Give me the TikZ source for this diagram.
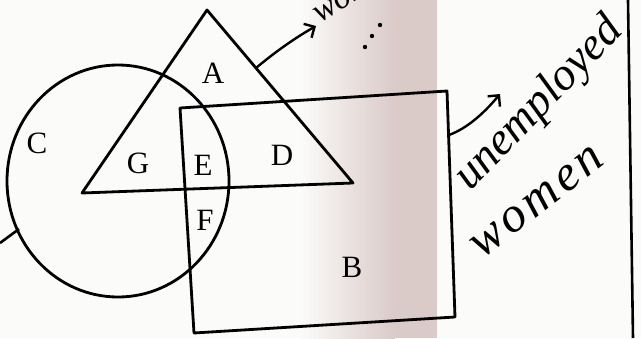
\documentclass[tikz,border=0pt]{standalone}
\usepackage{fontspec}
\setmainfont{Liberation Serif}
\usetikzlibrary{arrows.meta}
\definecolor{paper}{rgb}{0.985,0.985,0.98}
\definecolor{band}{RGB}{218,202,200}
\begin{document}
\begin{tikzpicture}[x=1pt,y=-1pt,
  outline/.style={line width=2.8pt, line join=round},
  lab/.style={font=\fontsize{31}{31}\selectfont, inner sep=0pt},
  hand/.style={font=\fontsize{46}{46}\selectfont\itshape, inner sep=0pt, anchor=base west},
  harrow/.style={line width=2.4pt, -{Straight Barb[length=8pt,width=16pt]}}]
\useasboundingbox (0,0) rectangle (641,338);
\clip (0,0) rectangle (641,338);
\fill[paper] (0,0) rectangle (641,338);
\shade[left color=paper, right color=band] (300,0) rectangle (395,338);
\fill[band] (395,0) rectangle (437,338);
% triangle
\coordinate (tA) at (207,10);
\coordinate (tL) at (82,193);
\coordinate (tR) at (353,183);
\draw[outline] (tA) -- (tL) -- (tR) -- cycle;
% circle
\coordinate (cc) at (118,181);
\draw[outline] (cc) ellipse [x radius=111, y radius=116];
% quadrilateral
\coordinate (r1) at (180,108);
\coordinate (r2) at (447,91);
\coordinate (r3) at (455,317);
\coordinate (r4) at (194,333);
\draw[outline] (r1) -- (r2) -- (r3) -- (r4) -- cycle;
% stub on circle
\coordinate (s0) at (0,243);
\coordinate (s1) at (19,229);
\draw[line width=2.6pt] (s0) -- (s1);
% arrows
\coordinate (a0) at (256,68);
\coordinate (a1) at (316,26);
\draw[harrow] (a0) .. controls (275,52) and (295,38) .. (a1);
\coordinate (b0) at (449,135);
\coordinate (b1) at (500,94);
\draw[harrow] (b0) .. controls (468,128) and (485,112) .. (b1);
% dots
\fill (380,25) circle (2.2);
\fill (372,36) circle (2.2);
\fill (365,47) circle (2.2);
% vertical line
\coordinate (v0) at (628,0);
\coordinate (v1) at (633,338);
\draw[line width=2.6pt] (v0) -- (v1);
% labels
\node[lab] (A) at (213,73) {A};
\node[lab] (C) at (37,143) {C};
\node[lab] (G) at (138,163) {G};
\node[lab] (E) at (203,165) {E};
\node[lab] (D) at (282,155) {D};
\node[lab] (F) at (205,220) {F};
\node[lab] (B) at (352,267) {B};
% handwriting
\node[hand, rotate=46] (t1) at (470,192) {unemployed};
\node[hand, rotate=38, font=\fontsize{50}{50}\selectfont\itshape\addfontfeature{LetterSpace=8}] (t2) at (482,260) {women};
\node[hand, rotate=33, font=\fontsize{34}{34}\selectfont\itshape] (t3) at (320,24) {women};
\end{tikzpicture}
\end{document}
